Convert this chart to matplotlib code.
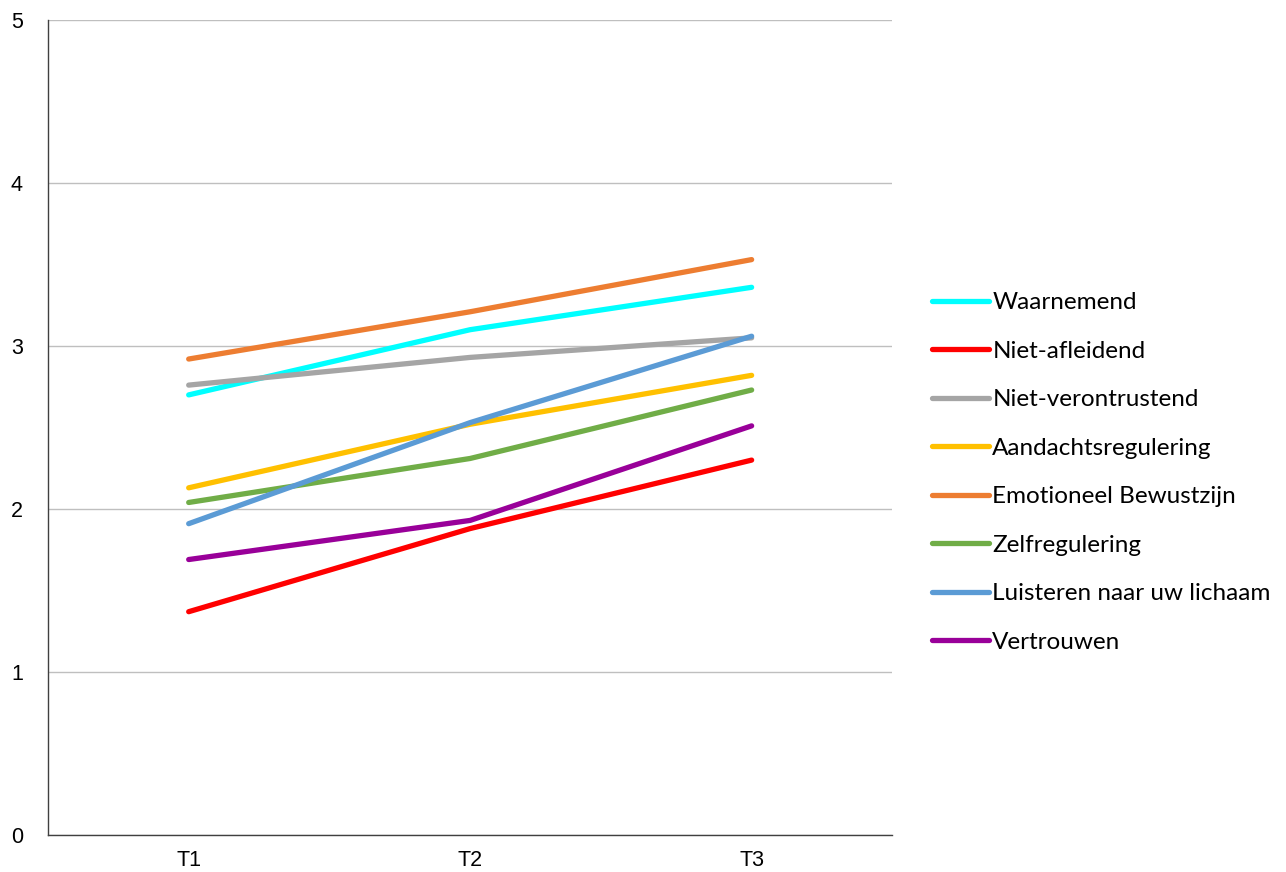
import matplotlib
matplotlib.use('Agg')
import matplotlib.pyplot as plt

# data
moments = ['T1', 'T2', 'T3']
series_names = ['Waarnemend', 'Niet-afleidend', 'Niet-verontrustend',
                'Aandachtsregulering', 'Emotioneel Bewustzijn', 'Zelfregulering',
                'Luisteren naar uw lichaam', 'Vertrouwen']
waarnemend = [2.70, 3.10, 3.36]
niet_afleidend = [1.37, 1.88, 2.30]
niet_verontrustend = [2.76, 2.93, 3.05]
aandacht = [2.13, 2.52, 2.82]
emotioneel = [2.92, 3.21, 3.53]
zelfregulering = [2.04, 2.31, 2.73]
luisteren = [1.91, 2.53, 3.06]
vertrouwen = [1.69, 1.93, 2.51]
colors = ['#00FFFF', '#FF0000', '#A5A5A5', '#FFC000',
          '#ED7D31', '#70AD47', '#5B9BD5', '#990099']

values = [waarnemend, niet_afleidend, niet_verontrustend, aandacht,
          emotioneel, zelfregulering, luisteren, vertrouwen]

plt.rcParams['font.family'] = ['Liberation Sans', 'DejaVu Sans']

fig = plt.figure(figsize=(12.86, 8.72), dpi=100)
ax = fig.add_axes([0.0373, 0.0424, 0.6566, 0.9347])

x = range(len(moments))
for name, vals, c in zip(series_names, values, colors):
    ax.plot(x, vals, color=c, lw=3.8, solid_capstyle='round', label=name)

ax.set_xlim(-0.5, 2.5)
ax.set_ylim(0, 5)
ax.set_yticks(range(6))
ax.set_xticks(list(x))
ax.set_xticklabels(moments)
ax.tick_params(length=0, labelsize=15.5, colors='#000000')
ax.tick_params(axis='y', pad=18)
ax.tick_params(axis='x', pad=11)
ax.grid(axis='y', color='#BFBFBF', lw=1)
ax.set_axisbelow(True)
for s in ['top', 'right']:
    ax.spines[s].set_visible(False)
for s in ['left', 'bottom']:
    ax.spines[s].set_color('#404040')
    ax.spines[s].set_linewidth(1)

leg = fig.legend(loc='upper left', bbox_to_anchor=(0.708, 0.690), frameon=False,
                 prop={'family': 'Lato', 'size': 17.5}, handlelength=2.35,
                 handletextpad=0.12, labelspacing=1.13)

fig.savefig('out.png', dpi=100, facecolor='white')
